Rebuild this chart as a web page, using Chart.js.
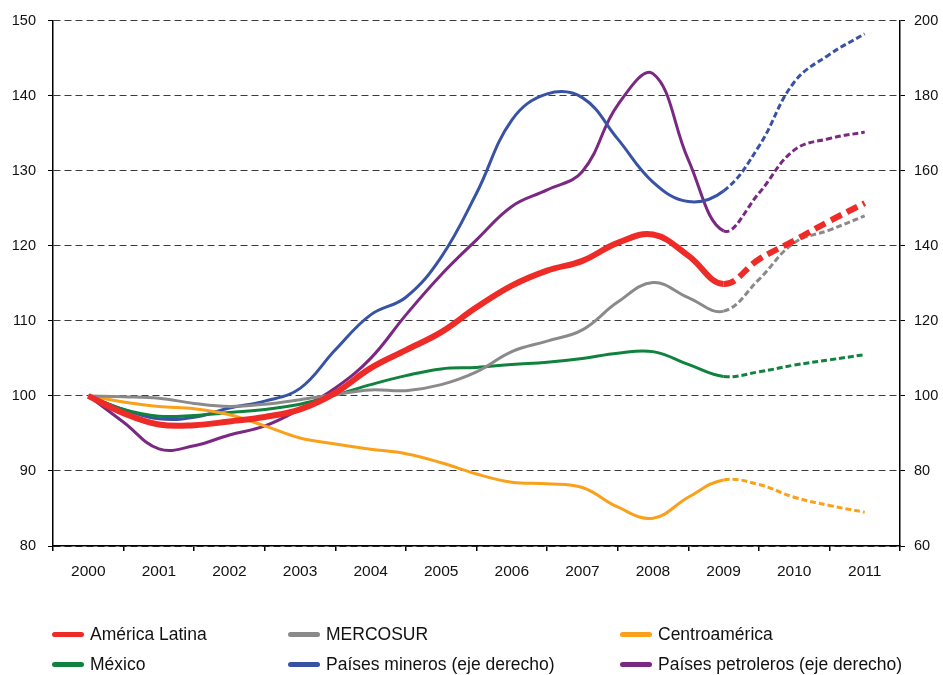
<!DOCTYPE html>
<html>
<head>
<meta charset="utf-8">
<script src="https://cdn.jsdelivr.net/npm/chart.js@4"></script>
<style>
    body { margin: 0; background: #fff; }
    #wrap { position: relative; width: 943px; height: 675px; }
    #legend { position: absolute; left: 0; top: 0; width: 943px; height: 675px; pointer-events: none;
        font-family: Arial, "Liberation Sans", sans-serif; font-size: 17.5px; color: #111; }
    .item { position: absolute; display: flex; align-items: center; white-space: nowrap; }
    .swatch { width: 32px; height: 5px; border-radius: 3px; margin-right: 6px; }
</style>
</head>
<body>
<div id="wrap">
    <canvas id="chart" width="943" height="675"></canvas>
    <div id="legend"></div>
</div>
<script>
// Half-year periods (2000 .. 2011); projection starts at 2009
const years = ['2000', '2001', '2002', '2003', '2004', '2005', '2006', '2007', '2008', '2009', '2010', '2011'];
const periods = [2000, 2000.5, 2001, 2001.5, 2002, 2002.5, 2003, 2003.5, 2004, 2004.5, 2005, 2005.5,
    2006, 2006.5, 2007, 2007.5, 2008, 2008.5, 2009, 2009.5, 2010, 2010.5, 2011];
const projectionFrom = 2009;

// Left axis
const americaLatina = [100, 97.7, 96.2, 96.1, 96.6, 97.2, 98.2, 100.4, 103.7, 106.1, 108.5, 111.8,
    114.7, 116.7, 118.0, 120.4, 121.5, 118.7, 114.9, 118.2, 120.7, 123.3, 125.7];
const mercosur = [100, 99.9, 99.7, 99.0, 98.6, 98.9, 99.5, 100.2, 100.8, 100.7, 101.5, 103.2,
    105.9, 107.3, 108.8, 112.5, 115.1, 113.1, 111.3, 115.5, 120.4, 122.1, 124.0];
const centroamerica = [100, 99.2, 98.6, 98.3, 97.5, 96.0, 94.4, 93.6, 92.9, 92.3, 91.1, 89.6,
    88.5, 88.3, 87.8, 85.2, 83.7, 86.5, 88.8, 88.2, 86.5, 85.4, 84.5];
const mexico = [100, 98.2, 97.3, 97.4, 97.8, 98.2, 98.9, 100.1, 101.5, 102.7, 103.6, 103.8,
    104.2, 104.5, 105.0, 105.7, 105.9, 104.2, 102.6, 103.2, 104.1, 104.8, 105.5];
// Right axis
const mineros = [100, 96.4, 93.9, 94.3, 96.8, 98.6, 102.0, 112.3, 121.6, 126.3, 137.0, 154.0,
    173.5, 180.5, 179.5, 168.5, 157.0, 151.8, 154.6, 166.5, 183.6, 191.0, 196.5];
const petroleros = [100, 93.0, 85.9, 86.7, 89.6, 92.0, 96.5, 102.1, 110.0, 121.6, 132.3, 141.6,
    150.5, 154.9, 159.8, 177.5, 185.9, 163.0, 144.0, 154.0, 165.5, 168.6, 170.3];

const leftTicks = [80, 90, 100, 110, 120, 130, 140, 150];
const rightTicks = [60, 80, 100, 120, 140, 160, 180, 200];

const series = [
    { label: 'América Latina', data: americaLatina, color: '#ee2b27', width: 6, dash: [12, 6], axis: 'y' },
    { label: 'MERCOSUR', data: mercosur, color: '#8a8a8a', width: 3, dash: [6, 3], axis: 'y' },
    { label: 'Centroamérica', data: centroamerica, color: '#f9a11b', width: 3, dash: [6, 3], axis: 'y' },
    { label: 'México', data: mexico, color: '#10823e', width: 3, dash: [6, 3], axis: 'y' },
    { label: 'Países mineros (eje derecho)', data: mineros, color: '#3953a4', width: 3, dash: [6, 3], axis: 'y2' },
    { label: 'Países petroleros (eje derecho)', data: petroleros, color: '#7a2882', width: 3, dash: [6, 3], axis: 'y2' }
];

function toPoints(values) {
    return values.map(function(v, i) {
        return { x: periods[i] - 2000, y: v };
    });
}

const datasets = series.map(function(s, idx) {
    return {
        label: s.label,
        data: toPoints(s.data),
        borderColor: s.color,
        backgroundColor: s.color,
        borderWidth: s.width,
        pointRadius: 0,
        fill: false,
        tension: 0.4,
        xAxisID: 'x',
        yAxisID: s.axis,
        order: idx === 0 ? 0 : idx + 1,
        segment: {
            borderDash: function(ctx) {
                return ctx.p0.parsed.x >= projectionFrom - 2000 ? s.dash : undefined;
            }
        }
    };
});

const tickFont = { family: 'Arial, "Liberation Sans", sans-serif', size: 14.5 };

new Chart(document.getElementById('chart'), {
    type: 'line',
    data: { labels: years, datasets: datasets },
    options: {
        responsive: false,
        animation: false,
        layout: { padding: { top: 16, bottom: 89, left: 0, right: 0 } },
        plugins: { legend: { display: false }, tooltip: { enabled: false } },
        scales: {
            x: {
                type: 'linear',
                min: -0.5,
                max: 11.5,
                display: false
            },
            xc: {
                type: 'category',
                position: 'bottom',
                offset: true,
                grid: { offset: true, drawOnChartArea: false, tickLength: 5, color: '#000', lineWidth: 1.5 },
                border: { color: '#000', width: 1.5 },
                ticks: { color: '#111', font: { family: tickFont.family, size: 15.5 }, padding: 11, maxRotation: 0 },
                afterFit: function(scale) { scale.height = 40; }
            },
            y: {
                position: 'left',
                min: 80,
                max: 150,
                afterBuildTicks: function(scale) {
                    scale.ticks = leftTicks.map(function(v) { return { value: v }; });
                },
                grid: {
                    color: '#3a3a3a',
                    lineWidth: 1,
                    tickBorderDash: [],
                    tickColor: '#000',
                    tickLength: 5
                },
                border: { color: '#000', width: 1.5, dash: [7, 4] },
                ticks: { color: '#111', font: tickFont, padding: 12 },
                afterFit: function(scale) { scale.width = 53; }
            },
            y2: {
                position: 'right',
                min: 60,
                max: 200,
                afterBuildTicks: function(scale) {
                    scale.ticks = rightTicks.map(function(v) { return { value: v }; });
                },
                grid: { drawOnChartArea: false, tickColor: '#000', tickLength: 5 },
                border: { color: '#000', width: 1.5 },
                ticks: { color: '#111', font: tickFont, padding: 9 },
                afterFit: function(scale) { scale.width = 43; }
            }
        }
    }
});

// Legend, three columns by two rows
const legendCols = [52, 288, 620];
const legendRows = [634, 664];
const legendBox = document.getElementById('legend');
series.forEach(function(s, i) {
    const item = document.createElement('div');
    item.className = 'item';
    item.style.left = legendCols[i % 3] + 'px';
    item.style.top = (legendRows[Math.floor(i / 3)] - 10) + 'px';
    item.style.height = '20px';
    item.innerHTML = '<span class="swatch" style="background:' + s.color + '"></span><span>' + s.label + '</span>';
    legendBox.appendChild(item);
});
</script>
</body>
</html>
